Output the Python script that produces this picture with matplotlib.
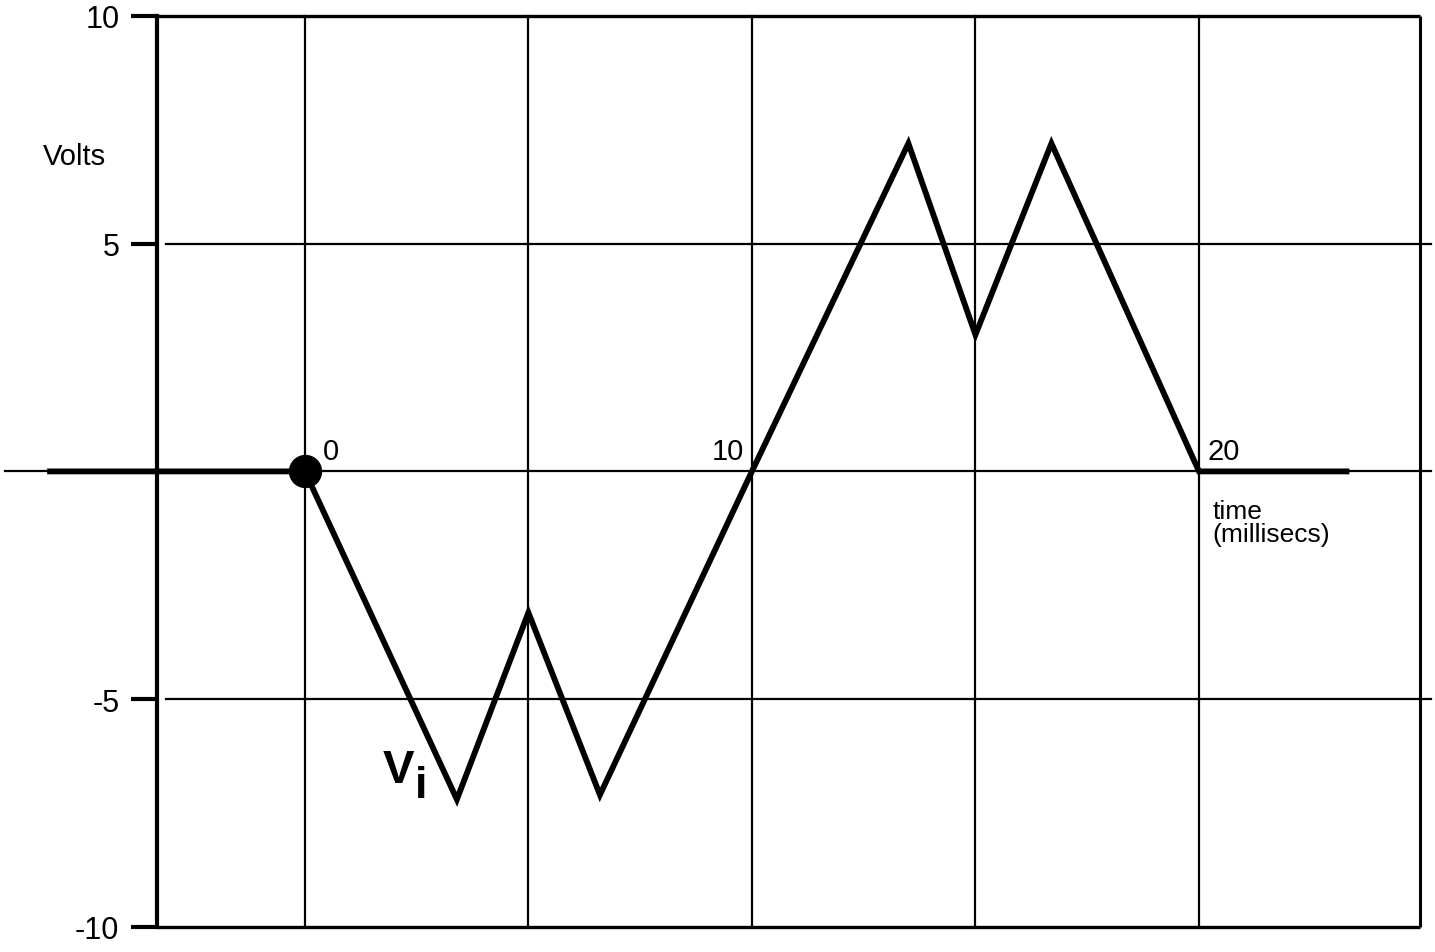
import matplotlib.pyplot as plt

# input voltage Vi vs time (ms)
time_ms = [-5.7, 0.0, 3.4, 5.0, 6.6, 10.0, 13.5, 15.0, 16.7, 20.0, 23.3]
volts = [0.0, 0.0, -7.2, -3.1, -7.1, 0.0, 7.2, 3.0, 7.2, 0.0, 0.0]

y_ticks = [10, 5, -5, -10]
y_tick_labels = ['10', '5', '-5', '-10']
x_grid = [0, 5, 10, 15, 20]
x_labels = ['0', '10', '20']
x_label_pos = [0.4, 9.1, 20.2]

plt.rcParams['font.family'] = ['Liberation Sans', 'DejaVu Sans']

fig = plt.figure(figsize=(14.35, 9.53), dpi=100)
ax = fig.add_axes([0, 0, 1, 1])
ax.set_xlim(-6.82, 25.28)
ax.set_ylim(-10.55, 10.37)

left, right = -3.31, 24.94

# frame
for name in ['top', 'bottom', 'right']:
    ax.spines[name].set_visible(False)
ax.spines['left'].set_position(('data', left))
ax.spines['left'].set_bounds(-10, 10)
ax.spines['left'].set_linewidth(3)
ax.plot([left, right], [10, 10], color='black', lw=2.4, solid_capstyle='butt')
ax.plot([left, right], [-10, -10], color='black', lw=2.4, solid_capstyle='butt')
ax.plot([right, right], [-10, 10], color='black', lw=2.2, solid_capstyle='butt')

ax.set_yticks(y_ticks)
ax.set_yticklabels(y_tick_labels)
ax.tick_params(axis='y', direction='out', length=19, width=3, pad=8, labelsize=22)
ax.set_xticks([])

# grid
for gx in x_grid:
    ax.plot([gx, gx], [-10, 10], color='black', lw=1.6)
for gy in [5, -5]:
    ax.plot([-3.1, 25.2], [gy, gy], color='black', lw=1.6)
ax.plot([-6.7, 25.2], [0, 0], color='black', lw=1.6)

# signal
ax.plot(time_ms, volts, color='black', lw=4.2, solid_joinstyle='miter')
ax.plot([0], [0], 'o', color='black', markersize=23)

# labels
ax.text(-5.85, 6.92, 'Volts', fontsize=21, ha='left', va='center')
for lab, pos in zip(x_labels, x_label_pos):
    ax.text(pos, 0.45, lab, fontsize=21, ha='left', va='center')
ax.text(20.3, -0.6, 'time\n(millisecs)', fontsize=19, ha='left', va='top',
        linespacing=0.95)
ax.text(1.75, -6.55, 'V', fontsize=34, fontweight='bold', ha='left', va='center')
ax.text(2.45, -6.9, 'i', fontsize=32, fontweight='bold', ha='left', va='center')

fig.savefig('out.png', dpi=100)
